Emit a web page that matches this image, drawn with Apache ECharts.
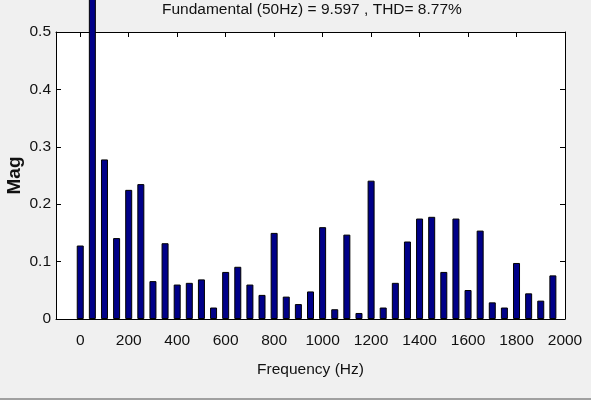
<!DOCTYPE html>
<html>
<head>
<meta charset="utf-8">
<script src="https://cdn.jsdelivr.net/npm/echarts@6/dist/echarts.min.js"></script>
<style>
html,body{margin:0;padding:0;background:#f0f0f0;}
#c{width:591px;height:400px;}
</style>
</head>
<body>
<div id="c"></div>
<script>
// Frequencies (Hz) of each harmonic bar
var frequencies = [0, 50, 100, 150, 200, 250, 300, 350, 400, 450,
  500, 550, 600, 650, 700, 750, 800, 850, 900, 950,
  1000, 1050, 1100, 1150, 1200, 1250, 1300, 1350, 1400, 1450,
  1500, 1550, 1600, 1650, 1700, 1750, 1800, 1850, 1900, 1950];
// Magnitudes (50 Hz fundamental runs off the top)
var magnitudes = [0.128, 0.60, 0.278, 0.141, 0.225, 0.235, 0.066, 0.132, 0.060, 0.063,
  0.069, 0.020, 0.082, 0.091, 0.060, 0.042, 0.150, 0.039, 0.026, 0.048,
  0.160, 0.017, 0.147, 0.0105, 0.241, 0.020, 0.063, 0.135, 0.175, 0.178,
  0.082, 0.175, 0.0505, 0.154, 0.029, 0.020, 0.0976, 0.0447, 0.032, 0.076];
var titleText = 'Fundamental (50Hz) = 9.597 , THD= 8.77%';
var xName = 'Frequency (Hz)';
var yName = 'Mag';

var font = "'Liberation Sans', Arial, sans-serif";
var barData = frequencies.map(function (f, i) { return [f, magnitudes[i]]; });
var plain = function (v) { return String(v); };

var chart = echarts.init(document.getElementById('c'), null, {renderer: 'canvas'});
chart.setOption({
  backgroundColor: '#f0f0f0',
  animation: false,
  title: {
    text: titleText,
    left: 157,
    top: -3,
    textStyle: {fontFamily: font, fontSize: 15.5, fontWeight: 'normal', color: '#111'}
  },
  grid: {left: 56, right: 26, top: 32, bottom: 81, show: true, backgroundColor: '#ffffff', borderWidth: 0,
    outerBoundsMode: 'none', containLabel: false},
  xAxis: [{
    type: 'value', min: -100, max: 2000, splitNumber: 10, position: 'bottom',
    name: xName, nameLocation: 'middle', nameGap: 43, nameMoveOverlap: false,
    nameTextStyle: {fontFamily: font, fontSize: 15.5, color: '#111'},
    axisLine: {show: true, onZero: false, lineStyle: {color: '#000', width: 1}},
    axisTick: {show: true, inside: true, length: 5, lineStyle: {color: '#000'}},
    axisLabel: {showMinLabel: false, formatter: plain, fontFamily: font, fontSize: 15.5, color: '#111', margin: 14},
    splitLine: {show: false}
  }, {
    type: 'value', min: -100, max: 2000, splitNumber: 10, position: 'top',
    axisLine: {show: true, onZero: false, lineStyle: {color: '#000', width: 1}},
    axisTick: {show: true, inside: true, length: 5, lineStyle: {color: '#000'}},
    axisLabel: {show: false},
    splitLine: {show: false}
  }],
  yAxis: [{
    type: 'value', min: 0, max: 0.5, interval: 0.1, position: 'left',
    name: yName, nameLocation: 'middle', nameRotate: 90, nameGap: 32, nameMoveOverlap: false,
    nameTextStyle: {fontFamily: font, fontSize: 19, fontWeight: 'bold', color: '#111'},
    axisLine: {show: true, onZero: false, lineStyle: {color: '#000', width: 1}},
    axisTick: {show: true, inside: true, length: 5, lineStyle: {color: '#000'}},
    axisLabel: {formatter: plain, fontFamily: font, fontSize: 15.5, color: '#111', margin: 5},
    splitLine: {show: false}
  }, {
    type: 'value', min: 0, max: 0.5, interval: 0.1, position: 'right',
    axisLine: {show: true, onZero: false, lineStyle: {color: '#000', width: 1}},
    axisTick: {show: true, inside: true, length: 5, lineStyle: {color: '#000'}},
    axisLabel: {show: false},
    splitLine: {show: false}
  }],
  graphic: [{
    type: 'rect', left: 0, bottom: 0,
    shape: {width: 591, height: 2},
    style: {fill: '#a0a0a0'}
  }],
  series: [{
    type: 'bar', xAxisIndex: 0, yAxisIndex: 0,
    data: barData, barWidth: 7, clip: false,
    itemStyle: {color: '#000088', borderColor: '#000', borderWidth: 1}
  }]
});
</script>
</body>
</html>
